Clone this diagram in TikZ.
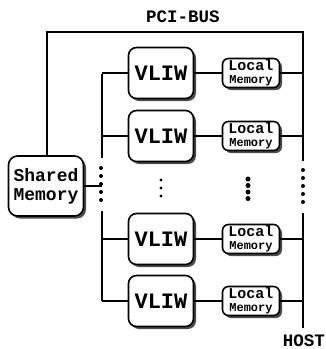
\documentclass[tikz,border=0pt]{standalone}
\usepackage{fontspec}
\setmainfont{Liberation Mono}
\usetikzlibrary{shadows}
\tikzset{
  bus/.style={line width=2pt},
  conn/.style={line width=1.8pt},
  boxshadow/.style={drop shadow={shadow xshift=2.5pt, shadow yshift=-2.5pt, opacity=1, fill=black!70}},
  vliwbox/.style={draw, line width=1.6pt, fill=white, rounded corners=8pt, minimum width=65pt, minimum height=51pt, inner sep=0pt, boxshadow, font=\bfseries\fontsize{22}{22}\selectfont},
  localbox/.style={draw, line width=1.6pt, fill=white, rounded corners=6pt, minimum width=57pt, minimum height=29pt, inner sep=0pt, boxshadow, align=center, font=\bfseries},
  shmbox/.style={draw, line width=1.6pt, fill=white, rounded corners=9pt, minimum width=75pt, minimum height=60pt, inner sep=0pt, boxshadow, align=center, font=\bfseries\fontsize{18}{19}\selectfont},
  lbl/.style={font=\bfseries\fontsize{17.5}{17.5}\selectfont, inner sep=0pt},
  busdot/.style={circle, fill=black, inner sep=0pt, minimum size=4pt},
  vdot/.style={circle, fill=black, inner sep=0pt, minimum size=3.2pt},
  ldot/.style={circle, fill=black, inner sep=0pt, minimum size=5pt}
}
\newcommand{\lmtext}{{\bfseries\fontsize{15}{13}\selectfont Local}\\[0.5pt]{\bfseries\fontsize{12}{11}\selectfont Memory}}
\begin{document}
\begin{tikzpicture}[x=1pt,y=-1pt]
\useasboundingbox (0,0) rectangle (326,349);
% bus coordinates
\coordinate (tl) at (47,32);
\coordinate (tr) at (303,32);
\coordinate (rb) at (303,328);
\coordinate (lt) at (102,74);
\coordinate (lb) at (102,301);
\coordinate (lgap1) at (102,158);
\coordinate (lgap2) at (102,211);
\coordinate (rgap1) at (303,161);
\coordinate (rgap2) at (303,213);
% labels
\node[lbl] (pci) at (183,17) {PCI-BUS};
\node[lbl] (host) at (304,341) {HOST};
% shared memory
\node[shmbox] (shm) at (46,186) {Shared\\Memory};
% buses
\draw[bus] (shm.north -| tl) -- (tl) -- (tr) -- (rgap1);
\draw[bus] (rgap2) -- (rb);
\draw[bus] (lt) -- (lgap1);
\draw[bus] (lgap2) -- (lb);
\draw[conn] (shm.east) -- (shm.east -| lt);
% bus dots
\foreach \y [count=\i] in {168,176,184,192,200} {
  \node[busdot] (ld\i) at (101,\y) {};
  \node[busdot] (rd\i) at (303,\y+2) {};
}
% rows
\foreach \y/\n in {73/1,136/2,239/3,301/4} {
  \node[vliwbox] (v\n) at (161,\y) {VLIW};
  \node[localbox] (m\n) at (251,\y) {\lmtext};
  \draw[conn] (v\n.west -| lt) -- (v\n.west);
  \draw[conn] (v\n.east) -- (m\n.west);
  \draw[conn] (m\n.east) -- (m\n.east -| tr);
}
% middle dots
\foreach \y [count=\i] in {180,188,196} {
  \node[vdot] (vd\i) at (161,\y) {};
}
\foreach \y [count=\i] in {179,185.5,192,198.5} {
  \node[ldot] (md\i) at (248,\y) {};
}
\end{tikzpicture}
\end{document}
